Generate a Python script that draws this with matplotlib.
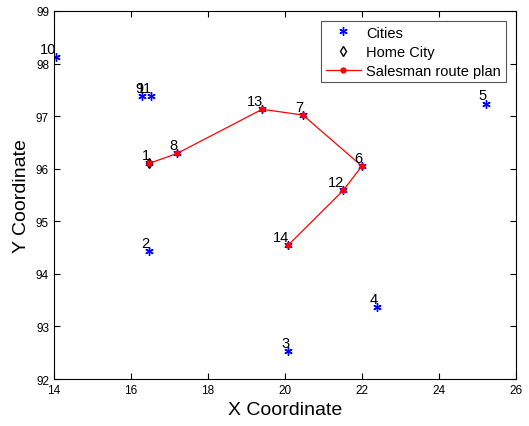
import numpy as np
import matplotlib.pyplot as plt
import matplotlib

matplotlib.rc('font', family=['Liberation Sans', 'DejaVu Sans'], size=9)

# burma14 city coordinates
city_x = [16.47, 16.47, 20.09, 22.39, 25.23, 22.00, 20.47, 17.20, 16.30, 14.05, 16.53, 21.52, 19.41, 20.09]
city_y = [96.10, 94.44, 92.54, 93.37, 97.24, 96.05, 97.02, 96.29, 97.38, 98.12, 97.38, 95.59, 97.13, 94.55]
home = 1
route = [1, 8, 13, 7, 6, 12, 14]

fig = plt.figure(figsize=(5.29, 4.27), dpi=100)
ax = fig.add_axes([0.102, 0.110, 0.873, 0.862])

ax.plot(city_x, city_y, ls='none', marker=(6, 2, 0), color='b', ms=6, mew=1.0, label='Cities')
ax.plot(city_x[home-1], city_y[home-1], 'kd', mfc='none', ms=5, mew=1, label='Home City')
rx = [city_x[i-1] for i in route]
ry = [city_y[i-1] for i in route]
ax.plot(rx, ry, 'r.-', lw=0.9, ms=7, label='Salesman route plan')

for i in range(len(city_x)):
    ax.text(city_x[i] + 0.02, city_y[i] + 0.02, str(i+1), ha='right', va='bottom', fontsize=10.5)

ax.set_xlim(14, 26)
ax.set_ylim(92, 99)
ax.set_xticks(np.arange(14, 27, 2))
ax.set_yticks(np.arange(92, 100, 1))
ax.tick_params(direction='in', top=True, right=True, length=4, labelsize=8.5)
ax.set_xlabel('X Coordinate', fontsize=14)
ax.set_ylabel('Y Coordinate', fontsize=14)
leg = ax.legend(loc='upper right', fontsize=10.5, fancybox=False, framealpha=1,
                edgecolor='#555555', borderaxespad=0.7, handlelength=2.4,
                handletextpad=0.4, borderpad=0.3, labelspacing=0.35)
leg.get_frame().set_linewidth(0.8)

plt.savefig('out.png', dpi=100)
